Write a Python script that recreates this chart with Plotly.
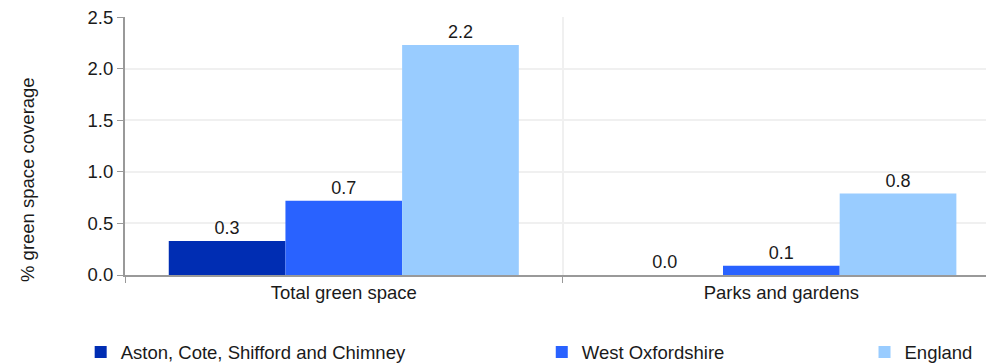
import plotly.graph_objects as go

categories = ["Total green space", "Parks and gardens"]
series_names = ["Aston, Cote, Shifford and Chimney", "West Oxfordshire", "England"]
aston = [0.33, 0.0]
west_oxon = [0.72, 0.09]
england = [2.23, 0.79]
colors = ["#002DB3", "#2962FF", "#99CCFF"]

FONT = "Liberation Sans, Arial, sans-serif"
TXT = "#1a1a1a"
FS = 18.5

fig = go.Figure()
legend_ids = ["legend", "legend2", "legend3"]
for name, vals, col, lg in zip(series_names, [aston, west_oxon, england], colors, legend_ids):
    fig.add_bar(
        x=categories,
        y=vals,
        name=name,
        marker_color=col,
        marker_line_width=0,
        texttemplate="%{y:.1f}",
        textposition="outside",
        textfont=dict(size=18, color=TXT, family=FONT),
        cliponaxis=False,
        legend=lg,
    )

leg_common = dict(
    orientation="h",
    yanchor="middle",
    y=-0.30,
    xanchor="left",
    font=dict(size=FS, color=TXT, family=FONT),
    bgcolor="rgba(0,0,0,0)",
)

# y title sits lower than the plot centre in the original, so it's an annotation
fig.add_annotation(
    text="% green space coverage",
    xref="paper", yref="paper",
    x=-0.1128, y=0.372,
    xanchor="center", yanchor="middle",
    textangle=-90,
    showarrow=False,
    font=dict(size=FS, color=TXT, family=FONT),
)

# page has an 8px body margin, so the figure is sized a bit smaller
fig.update_layout(
    width=986,
    height=355,
    margin=dict(l=117, r=0, t=9, b=88, autoexpand=False),
    paper_bgcolor="white",
    plot_bgcolor="white",
    font=dict(family=FONT, size=FS, color=TXT),
    barmode="group",
    bargap=0.2,
    bargroupgap=0,
    showlegend=True,
    legend=dict(x=-0.051, **leg_common),
    legend2=dict(x=0.4796, **leg_common),
    legend3=dict(x=0.851, **leg_common),
    xaxis=dict(
        type="category",
        range=[-0.5, 1.486],
        automargin=False,
        tickson="boundaries",
        ticks="outside",
        ticklen=6,
        tickcolor="#999999",
        showline=True,
        linecolor="#999999",
        linewidth=2,
        showgrid=True,
        gridcolor="#f0f0f0",
        gridwidth=2,
        tickfont=dict(size=FS, color=TXT),
    ),
    yaxis=dict(
        range=[0, 2.501],
        dtick=0.5,
        tickformat=".1f",
        automargin=False,
        ticklabeloverflow="allow",
        ticks="outside",
        ticklen=6,
        tickcolor="#999999",
        showline=True,
        linecolor="#999999",
        linewidth=2,
        showgrid=True,
        gridcolor="#f0f0f0",
        gridwidth=2,
        zeroline=False,
        tickfont=dict(size=FS, color=TXT),
    ),
)

fig.write_html("out.html")
